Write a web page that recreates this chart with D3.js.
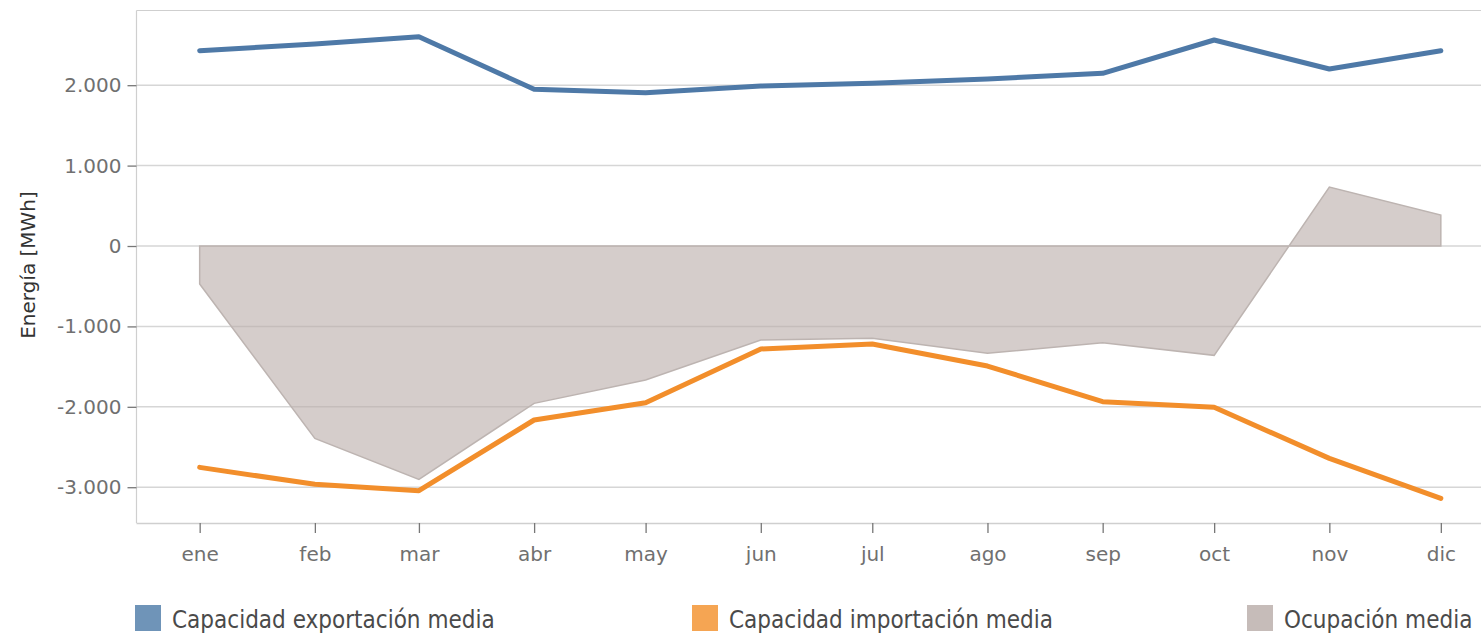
<!DOCTYPE html>
<html>
<head>
<meta charset="utf-8">
<script src="https://cdn.jsdelivr.net/npm/d3@7"></script>
<style>
  html, body { margin: 0; padding: 0; background: #fff; }
  svg { display: block; font-family: "DejaVu Sans", sans-serif; }
</style>
</head>
<body>
<svg id="chart" width="1481" height="633"></svg>
<script>
// Monthly averages (first day of each month)
const months = ["2023-01-01","2023-02-01","2023-03-01","2023-04-01","2023-05-01","2023-06-01",
                "2023-07-01","2023-08-01","2023-09-01","2023-10-01","2023-11-01","2023-12-01"];
const monthLabels = ["ene","feb","mar","abr","may","jun","jul","ago","sep","oct","nov","dic"];
const exportCapacity = [2429, 2512, 2603, 1949, 1907, 1990, 2024, 2077, 2148, 2562, 2201, 2429];
const importCapacity = [-2753, -2964, -3043, -2164, -1949, -1281, -1219, -1493, -1936, -2006, -2641, -3138];
const occupancy = [-473, -2392, -2902, -1957, -1667, -1169, -1148, -1335, -1202, -1360, 734, 386];
const yTicks = [-3000, -2000, -1000, 0, 1000, 2000];
const legendItems = ["Capacidad exportación media", "Capacidad importación media", "Ocupación media"];

const parse = d3.utcParse("%Y-%m-%d");
const dates = months.map(parse);

const svg = d3.select("#chart");
const plotLeft = 136.5, plotTop = 10.5, plotBottom = 523, plotRight = 1504;

const x = d3.scaleUtc()
  .domain([d3.utcDay.offset(dates[0], -17), d3.utcDay.offset(dates[dates.length - 1], 17)])
  .range([plotLeft, plotRight]);
const y = d3.scaleLinear().domain([-3445, 2929]).range([plotBottom, plotTop]);

const esFormat = d3.formatLocale({ decimal: ",", thousands: ".", grouping: [3], currency: ["", " €"], minus: "-" }).format(",d");

// Frame and gridlines
const g = svg.append("g");
g.append("line").attr("x1", plotLeft).attr("x2", 1481).attr("y1", plotTop).attr("y2", plotTop)
  .attr("stroke", "#cfcfcf").attr("stroke-width", 1.2);
g.append("line").attr("x1", plotLeft).attr("x2", plotLeft).attr("y1", plotTop).attr("y2", plotBottom)
  .attr("stroke", "#cfcfcf").attr("stroke-width", 1.2);
g.selectAll(".grid").data(yTicks).join("line")
  .attr("x1", plotLeft).attr("x2", 1481)
  .attr("y1", d => y(d)).attr("y2", d => y(d))
  .attr("stroke", "#d6d6d6").attr("stroke-width", 1.5);

// Y axis
const yAxis = svg.append("g").attr("transform", `translate(${plotLeft},0)`)
  .call(d3.axisLeft(y).tickValues(yTicks).tickFormat(esFormat).tickSize(9).tickPadding(6));
yAxis.select(".domain").remove();
yAxis.selectAll(".tick line").attr("stroke", "#777").attr("stroke-width", 1.3);
yAxis.selectAll(".tick text").attr("fill", "#707070").style("font-size", "20px")
  .style("font-family", "'DejaVu Sans'");

// X axis
const xAxis = svg.append("g").attr("transform", `translate(0,${plotBottom})`)
  .call(d3.axisBottom(x).tickValues(dates).tickFormat((d, i) => monthLabels[i]).tickSize(10).tickPadding(14));
xAxis.select(".domain").attr("d", `M${plotLeft},0.5H1481`).attr("stroke", "#cfcfcf").attr("stroke-width", 1.5);
xAxis.selectAll(".tick line").attr("stroke", "#777").attr("stroke-width", 1.3);
xAxis.selectAll(".tick text").attr("fill", "#707070").style("font-size", "20px")
  .style("font-family", "'DejaVu Sans'");

// Occupancy area
const area = d3.area().x((d, i) => x(dates[i])).y0(y(0)).y1(d => y(d));
svg.append("path").datum(occupancy)
  .attr("d", area)
  .attr("fill", "#b9aba8").attr("fill-opacity", 0.6)
  .attr("stroke", "#bdb4b1").attr("stroke-width", 1.5);

// Lines
const line = d3.line().x((d, i) => x(dates[i])).y(d => y(d));
svg.append("path").datum(exportCapacity).attr("d", line)
  .attr("fill", "none").attr("stroke", "#4e79a7").attr("stroke-width", 5)
  .attr("stroke-linejoin", "round").attr("stroke-linecap", "round");
svg.append("path").datum(importCapacity).attr("d", line)
  .attr("fill", "none").attr("stroke", "#f28e2b").attr("stroke-width", 5)
  .attr("stroke-linejoin", "round").attr("stroke-linecap", "round");

// Y title
svg.append("text")
  .attr("transform", "translate(35,265) rotate(-90)")
  .attr("text-anchor", "middle")
  .attr("fill", "#333").style("font-size", "20px")
  .text("Energía [MWh]");

// Legend
const legendColors = ["#6f94b8", "#f5a553", "#c6bcb9"];
const legendX = [135, 692, 1247];
const lg = svg.append("g");
legendItems.forEach((t, i) => {
  lg.append("rect").attr("x", legendX[i]).attr("y", 605).attr("width", 26).attr("height", 26)
    .attr("fill", legendColors[i]);
  lg.append("text").attr("x", legendX[i] + 37).attr("y", 628)
    .attr("fill", "#4a4a4a").style("font-size", "24px")
    .style("font-family", "'DejaVu Sans Condensed', 'DejaVu Sans'")
    .text(t);
});
</script>
</body>
</html>
